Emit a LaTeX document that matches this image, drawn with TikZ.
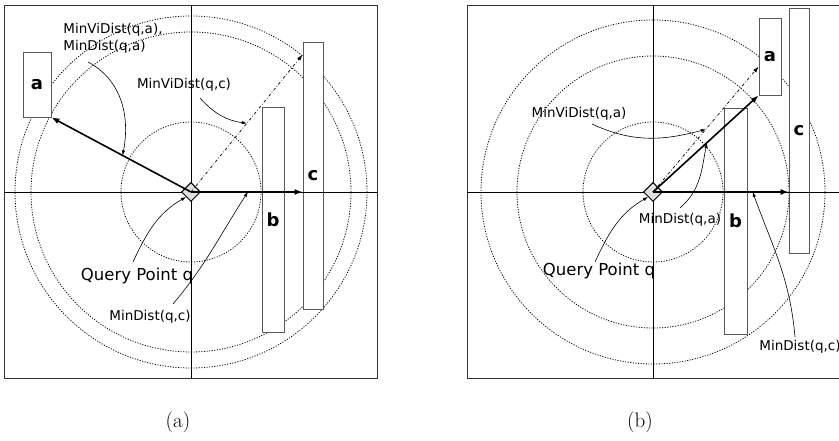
\documentclass[tikz,border=0pt]{standalone}
\usepackage{fontspec}
\newfontfamily\labelfont{DejaVu Sans}
\usetikzlibrary{arrows.meta,shapes.geometric,calc}
\tikzset{
  distarrow/.style={-{Latex[length=8pt,width=6pt]}, line width=1.6pt},
  viarrow/.style={-{Latex[length=6pt,width=4pt]}, line width=0.7pt, dash dot},
  notearrow/.style={-{Latex[length=5pt,width=3.5pt]}, line width=0.6pt},
  ring/.style={draw=black, line width=0.8pt, dash pattern=on 1.1pt off 1.5pt},
  axisline/.style={line width=0.9pt}
}

\begin{document}
\begin{tikzpicture}[x=1pt, y=1pt,
  box/.style={draw=black!65, fill=white, line width=0.8pt, inner sep=0pt,
    font=\labelfont\fontsize{18}{18}\selectfont\bfseries},
  query/.style={diamond, draw, fill=gray!25, line width=1pt, minimum size=19pt, inner sep=0pt},
  note/.style={font=\labelfont\fontsize{13.5}{17}\selectfont, inner sep=1pt},
  qnote/.style={font=\labelfont\fontsize{16.5}{18}\selectfont, inner sep=1pt},
  frame/.style={draw=black!80, line width=0.9pt},
  caption/.style={font=\fontsize{21}{22}\selectfont}
]
\useasboundingbox (0,0) rectangle (839,441);
\clip (0,0) rectangle (839,441);

% (a)
\coordinate (qa) at (191,249);
\draw[frame] (4,63) rectangle (377,436);
\foreach \r in {70,160,176}
  \draw[ring] (qa) circle[radius=\r pt];
\node[box, minimum width=28pt, minimum height=65pt] (a1) at (37,356.5) {a};
\node[box, minimum width=22pt, minimum height=225pt] (b1) at (273,221.5) {b};
\node[box, minimum width=20pt, minimum height=267pt] (c1) at (313,265.5) {c};
\draw[axisline] (4,249) -- (377,249);
\draw[axisline] (191,63) -- (191,436);
\node[query] (pa) at (qa) {};
\coordinate (hitc1) at (c1.west |- qa);
\coordinate (vic1) at ($(c1.north west)+(0,-13)$);
\draw[distarrow] (qa) -- (a1.south east);
\draw[distarrow] (qa) -- (hitc1);
\draw[viarrow] (qa) -- (vic1);

\node[note, align=left] (n1) at (113,403) {MinViDist(q,a),\\MinDist(q,a)};
\node[note] (n2) at (184,356) {MinViDist(q,c)};
\node[qnote] (n3) at (137,165) {Query Point q};
\node[note] (n4) at (150,124) {MinDist(q,c)};
\coordinate (s1) at (88,379);
\coordinate (s2) at (200,343);
\coordinate (s3) at (133,179);
\coordinate (s4) at (173,137);
\draw[notearrow] (s1) to[out=-28,in=79] ($(qa)!0.49!(a1.south east)$);
\draw[notearrow] (s2) to[out=-48,in=172] ($(qa)!0.5!(vic1)$);
\draw[notearrow] (s3) to[out=65,in=-150] (pa.south west);
\draw[notearrow] (s4) to[out=50,in=-123] ($(qa)!0.51!(hitc1)$);
\node[caption] (capa) at (178,19) {(a)};

% (b)
\coordinate (qb) at (653,249);
\draw[frame] (467,63) rectangle (840,436);
\foreach \r in {70,136,172}
  \draw[ring] (qb) circle[radius=\r pt];
\node[box, minimum width=22pt, minimum height=77pt] (a2) at (770,384.5) {a};
\node[box, minimum width=23pt, minimum height=226pt] (b2) at (735.5,220) {b};
\node[box, minimum width=20pt, minimum height=245pt] (c2) at (799,310.5) {c};
\draw[axisline] (467,249) -- (840,249);
\draw[axisline] (653,63) -- (653,436);
\node[query] (pb) at (qb) {};
\coordinate (hitc2) at (c2.west |- qb);
\coordinate (via2) at ($(a2.north west)+(0,-49)$);
\draw[distarrow] (qb) -- (a2.south west);
\draw[distarrow] (qb) -- (hitc2);
\draw[viarrow] (qb) -- (via2);

\node[note] (n5) at (579,327) {MinViDist(q,a)};
\node[note] (n6) at (680,221) {MinDist(q,a)};
\node[qnote] (n7) at (599,170) {Query Point q};
\node[note] (n8) at (800,94) {MinDist(q,c)};
\coordinate (s5) at (592,317);
\coordinate (s6) at (680,233);
\coordinate (s7) at (595,179);
\coordinate (s8) at (795,104);
\draw[notearrow] (s5) to[out=-25,in=195] ($(qb)!0.5!(via2)$);
\draw[notearrow] (s6) to[out=41,in=-101] ($(qb)!0.51!(a2.south west)$);
\draw[notearrow] (s7) to[out=65,in=-150] (pb.south west);
\draw[notearrow] (s8) to[out=95,in=-70] ($(qb)!0.735!(hitc2)$);
\node[caption] (capb) at (640,19) {(b)};
\end{tikzpicture}
\end{document}
